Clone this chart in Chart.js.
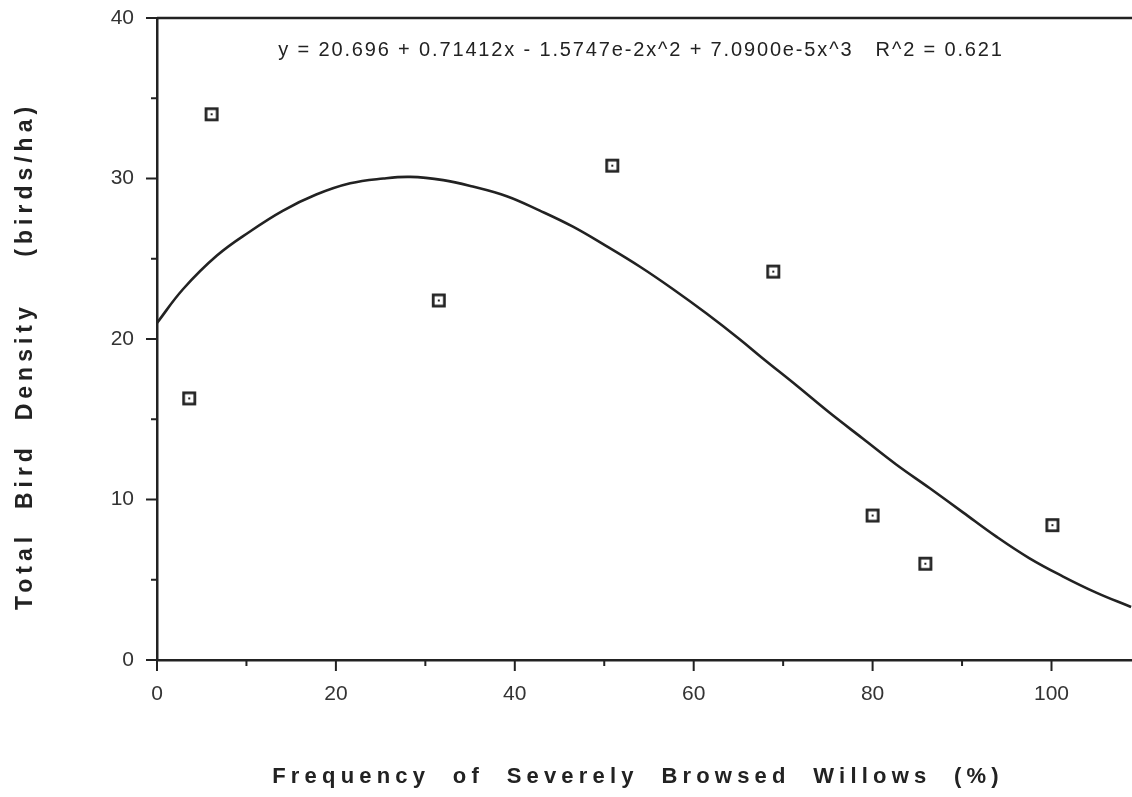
<!DOCTYPE html>
<html>
<head>
<meta charset="utf-8">
<script src="https://cdn.jsdelivr.net/npm/chart.js@4/dist/chart.umd.min.js"></script>
<style>
	html, body { margin: 0; padding: 0; background: #fff; }
	#wrap { width: 1132px; height: 797px; }
</style>
</head>
<body>
<div id="wrap"><canvas id="chart"></canvas></div>
<script>
"use strict";

// observed points
const obs_x = [3.6, 6.1, 31.5, 50.9, 68.9, 80.0, 85.9, 100.1]
const obs_y = [16.3, 34.0, 22.4, 30.8, 24.2, 9.0, 6.0, 8.4]

// fitted cubic
const fit_x = [0, 2.9, 6.7, 10.4, 14.1, 17.8, 21.6, 25.3, 28.3, 32.0, 35.3, 39.1, 42.8, 46.5, 50.2, 54.0,
	57.7, 61.4, 65.1, 67.7, 71.5, 75.2, 78.9, 82.6, 86.4, 90.1, 93.8, 97.5, 101.3, 105.0, 108.9]
const fit_y = [21.0, 23.1, 25.2, 26.7, 28.0, 29.0, 29.7, 30.0, 30.1, 29.9, 29.5, 28.9, 28.0, 27.0, 25.8, 24.5,
	23.1, 21.6, 20.0, 18.8, 17.1, 15.4, 13.8, 12.2, 10.7, 9.2, 7.7, 6.35, 5.2, 4.2, 3.3]

// axes
const x_major = [0, 20, 40, 60, 80, 100]
const x_minor = [10, 30, 50, 70, 90]
const y_major = [0, 10, 20, 30, 40]
const y_minor = [5, 15, 25, 35]

const equation_text = "y = 20.696 + 0.71412x - 1.5747e-2x^2 + 7.0900e-5x^3   R^2 = 0.621"
const x_title = "Frequency  of  Severely  Browsed  Willows  (%)"
const y_title = "Total  Bird  Density    (birds/ha)"

const INK = "#222"
const FONT = "'Liberation Sans', Arial, Helvetica, sans-serif"


// hollow square with a dot in the middle
function box_marker() {
	const c = document.createElement("canvas")
	c.width = c.height = 16
	const g = c.getContext("2d")
	g.strokeStyle = INK
	g.lineWidth = 2.7
	g.strokeRect(2.4, 2.4, 11.2, 11.2)
	g.fillStyle = INK
	g.fillRect(7, 7, 2, 2)
	return c
}

// tick marks, top rule, equation and axis titles
const frame_plugin = {
	id: "frame",
	afterDraw(chart) {
		const ctx = chart.ctx
		const a = chart.chartArea
		const sx = chart.scales.x
		const sy = chart.scales.y

		ctx.save()
		ctx.strokeStyle = INK
		ctx.lineCap = "butt"

		// top rule
		ctx.lineWidth = 2.5
		ctx.beginPath()
		ctx.moveTo(a.left, a.top)
		ctx.lineTo(a.right, a.top)
		ctx.stroke()

		// ticks
		ctx.lineWidth = 2
		const tick = (x1, y1, x2, y2) => {
			ctx.beginPath(); ctx.moveTo(x1, y1); ctx.lineTo(x2, y2); ctx.stroke()
		}
		x_major.forEach(v => { const p = sx.getPixelForValue(v); tick(p, a.bottom, p, a.bottom + 11) })
		x_minor.forEach(v => { const p = sx.getPixelForValue(v); tick(p, a.bottom, p, a.bottom + 6) })
		y_major.forEach(v => { const p = sy.getPixelForValue(v); tick(a.left, p, a.left - 11, p) })
		y_minor.forEach(v => { const p = sy.getPixelForValue(v); tick(a.left, p, a.left - 6, p) })

		// equation
		ctx.fillStyle = INK
		ctx.textAlign = "center"
		ctx.textBaseline = "middle"
		ctx.font = "20px " + FONT
		ctx.letterSpacing = "1.85px"
		ctx.fillText(equation_text, 641, 50)

		// x title
		ctx.font = "bold 22px " + FONT
		ctx.letterSpacing = "5.2px"
		ctx.fillText(x_title, 638, 777)

		// y title
		ctx.translate(26, 356)
		ctx.rotate(-Math.PI / 2)
		ctx.font = "bold 23px " + FONT
		ctx.letterSpacing = "5px"
		ctx.fillText(y_title, 0, 0)

		ctx.restore()
	}
}

const tick_font = { family: FONT, size: 21 }

new Chart(document.getElementById("chart"), {
	type: "scatter",
	data: {
		datasets: [
			{
				label: "fit",
				type: "line",
				data: fit_x.map((v, i) => ({ x: v, y: fit_y[i] })),
				borderColor: INK,
				borderWidth: 2.6,
				pointRadius: 0,
				tension: 0.4,
				fill: false
			},
			{
				label: "observed",
				data: obs_x.map((v, i) => ({ x: v, y: obs_y[i] })),
				pointStyle: box_marker(),
				pointRadius: 7,
				pointHoverRadius: 7
			}
		]
	},
	options: {
		responsive: true,
		maintainAspectRatio: false,
		animation: false,
		layout: { autoPadding: false, padding: { top: 18, left: 0, right: 0, bottom: 0 } },
		plugins: {
			legend: { display: false },
			tooltip: { enabled: false }
		},
		scales: {
			x: {
				type: "linear",
				min: 0,
				max: 109,
				afterBuildTicks: s => { s.ticks = x_major.map(v => ({ value: v })) },
				afterFit: s => { s.height = 137; s.paddingLeft = 0; s.paddingRight = 0 },
				grid: { drawOnChartArea: false, drawTicks: false },
				border: { display: true, color: INK, width: 2.5 },
				ticks: { color: "#333", font: tick_font, padding: 22, maxRotation: 0 }
			},
			y: {
				type: "linear",
				min: 0,
				max: 40,
				afterBuildTicks: s => { s.ticks = y_major.map(v => ({ value: v })) },
				afterFit: s => { s.width = 157; s.paddingTop = 0; s.paddingBottom = 0 },
				grid: { drawOnChartArea: false, drawTicks: false },
				border: { display: true, color: INK, width: 2.5 },
				ticks: { color: "#333", font: tick_font, padding: 23 }
			}
		}
	},
	plugins: [frame_plugin]
})
</script>
</body>
</html>
